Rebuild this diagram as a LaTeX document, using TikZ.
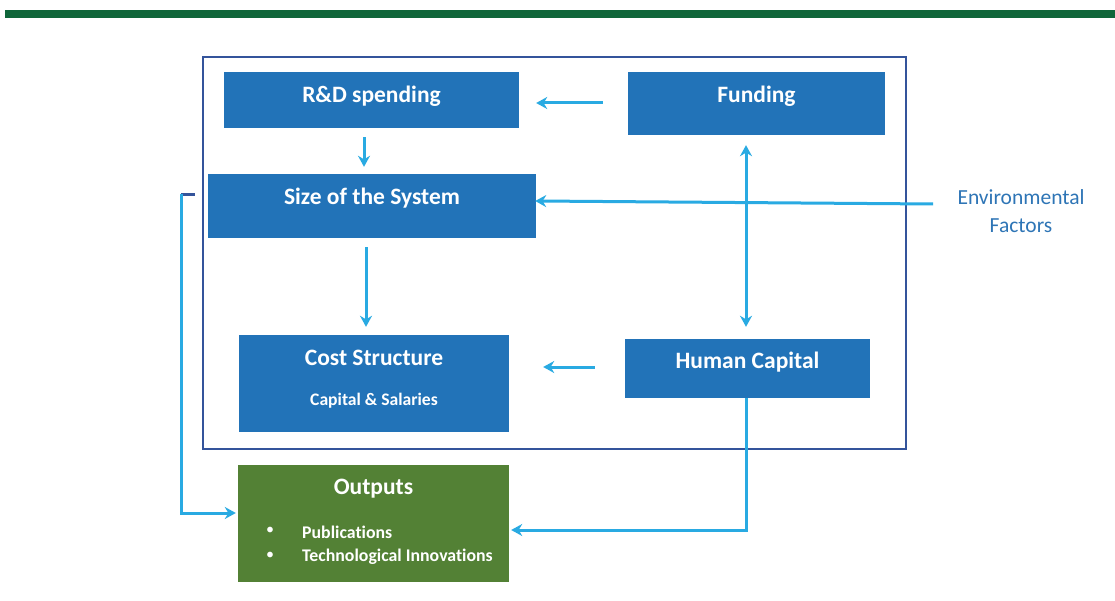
\documentclass[tikz,border=0pt]{standalone}
\usepackage{fontspec}
\setmainfont{Carlito}[Ligatures=NoCommon]
\usetikzlibrary{arrows.meta,fit}
\definecolor{boxblue}{RGB}{34,115,184}
\definecolor{outgreen}{RGB}{83,129,53}
\definecolor{bargreen}{RGB}{16,102,58}
\definecolor{arrblue}{RGB}{41,170,226}
\definecolor{framec}{RGB}{52,84,155}
\definecolor{envc}{RGB}{46,117,182}
\tikzset{
  box/.style={draw=none, fill=boxblue, inner sep=0pt},
  gbox/.style={draw=none, fill=outgreen, inner sep=0pt},
  ttl/.style={text=white, font=\fontsize{23.5}{26}\selectfont\bfseries, inner sep=0pt},
  sub/.style={text=white, font=\fontsize{17.6}{20}\selectfont\bfseries, inner sep=0pt},
  itm/.style={text=white, font=\fontsize{17.8}{20}\selectfont\bfseries, inner sep=0pt, anchor=west},
  arr/.style={draw=arrblue, line width=3pt, -{Stealth[length=11pt,width=12pt]}},
  dbl/.style={draw=arrblue, line width=3pt, {Stealth[length=11pt,width=12pt]}-{Stealth[length=11pt,width=12pt]}},
}
\begin{document}
\begin{tikzpicture}[x=1pt,y=1pt]
\useasboundingbox (0,0) rectangle (1115,-601);
\fill[white] (0,0) rectangle (1115,-601);
% top bar
\fill[bargreen] (5,-10) rectangle (1115,-18);
% frame
\node[draw=framec, line width=2.2pt, fit={(203,-57) (906,-449)}, inner sep=0pt] (frame) {};
% boxes
\node[box, fit={(224,-72) (519,-128)}] (rd) {};
\node[ttl] (rdt) at (371.5,-96) {R\&D spending};
\node[box, fit={(628,-72) (885,-135)}] (fund) {};
\node[ttl] (fundt) at (756.5,-96) {Funding};
\node[box, fit={(208,-174) (536,-238)}] (size) {};
\node[ttl] (sizet) at (372,-198) {Size of the System};
\node[box, fit={(239,-335) (509,-432)}] (cost) {};
\node[ttl] (costt) at (374,-358) {Cost Structure};
\node[sub] (costs) at (374,-401) {Capital \& Salaries};
\node[box, fit={(625,-339) (870,-398)}] (hum) {};
\node[ttl] (humt) at (747.5,-362) {Human Capital};
\node[gbox, fit={(238,-465) (509,-582)}] (out) {};
\node[ttl] (outt) at (373.5,-489) {Outputs};
\node[text=white, font=\fontsize{16}{19}\selectfont, inner sep=0pt] (b1) at (270,-531) {•};
\node[itm] (i1) at (302,-532) {Publications};
\node[text=white, font=\fontsize{16}{19}\selectfont, inner sep=0pt] (b2) at (270,-556) {•};
\node[itm] (i2) at (302,-557) {Technological Innovations};
% environmental factors
\node[text=envc, font=\fontsize{21.5}{28}\selectfont, align=center, inner sep=0pt] (env) at (1021,-211) {Environmental\\Factors};
\coordinate (envs) at (933,-204);
% connectors
\draw[arr, shorten <=25pt, shorten >=17pt] (fund.west|-0,-103) -- (rd.east|-0,-103);
\draw[arr, shorten <=9pt, shorten >=7pt] (rd.south-|364,0) -- (size.north-|364,0);
\draw[arr, shorten <=9pt, shorten >=8pt] (size.south-|366,0) -- (cost.north-|366,0);
\draw[arr, shorten <=30pt, shorten >=34pt] (hum.west|-0,-367) -- (cost.east|-0,-367);
\draw[dbl, shorten <=10pt, shorten >=12pt] (fund.south-|746,0) -- (hum.north-|746,0);
\draw[arr, shorten >=-1pt] (envs) -- (size.east|-0,-201);
\draw[arr, shorten >=2pt] (hum.south-|746,0) -- (746,-530) -- (out.east|-0,-530);
\draw[draw=framec, line width=3pt] (181,-195) -- (195,-195);
\draw[arr, shorten >=2pt] (181,-194) -- (181,-513) -- (out.west|-0,-513);
\end{tikzpicture}
\end{document}
